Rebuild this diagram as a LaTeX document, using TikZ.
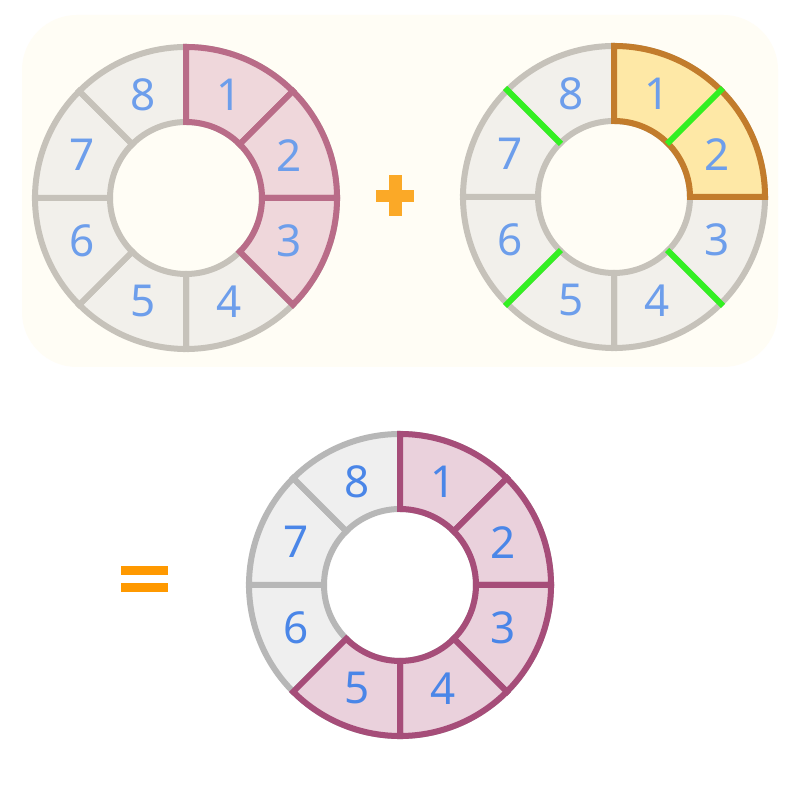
\documentclass[tikz,border=0pt]{standalone}
\usepackage{fontspec}
\setmainfont{Noto Sans}
\definecolor{cream}{HTML}{FFFDF5}
\definecolor{ga}{HTML}{C6C2BA}
\definecolor{gafill}{HTML}{F2F0EB}
\definecolor{pka}{HTML}{B96C88}
\definecolor{pkafill}{HTML}{EFD7DB}
\definecolor{ylw}{HTML}{FEE8A6}
\definecolor{ylwline}{HTML}{C27C2C}
\definecolor{grn}{HTML}{33F022}
\definecolor{gb}{HTML}{B7B7B7}
\definecolor{gbfill}{HTML}{EFEFEF}
\definecolor{pkb}{HTML}{A64D79}
\definecolor{pkbfill}{HTML}{EAD1DC}
\definecolor{diga}{HTML}{6D9EEB}
\definecolor{digb}{HTML}{4A86E8}
\definecolor{plusc}{HTML}{FBA927}
\definecolor{eqc}{HTML}{FF9900}
\newcommand{\ringsector}[3]{%
  \path[#1] (#2:151) arc[start angle=#2, end angle=#3, radius=151]
    -- (#3:76) arc[start angle=#3, end angle=#2, radius=76] -- cycle;}
\tikzset{
  graya/.style={draw=ga, fill=gafill, line width=6pt},
  pinka/.style={draw=pka, fill=pkafill, line width=6pt},
  yellowa/.style={draw=ylwline, fill=ylw, line width=6pt},
  grayb/.style={draw=gb, fill=gbfill, line width=6pt},
  pinkb/.style={draw=pkb, fill=pkbfill, line width=6pt},
  greenline/.style={draw=grn, line width=6pt},
  diglabel/.style={font=\fontsize{44}{44}\selectfont, inner sep=0pt},
}
\begin{document}
\begin{tikzpicture}[x=1pt,y=1pt]
\useasboundingbox (0,0) rectangle (800,800);
\fill[white] (0,0) rectangle (800,800);
\fill[cream, rounded corners=55pt] (22,433) rectangle (778,785);
% ring 1
\begin{scope}[shift={(186,602)}]
  \foreach \a in {90,45,0,-45,-90,-135,-180,-225} {\ringsector{graya}{\a}{\a-45}}
  \foreach \a in {90,45,0} {\ringsector{pinka}{\a}{\a-45}}
  \foreach \n/\a in {1/67.5,2/22.5,3/-22.5,4/-67.5,5/-112.5,6/-157.5,7/157.5,8/112.5}
    {\node[diglabel, text=diga] (a\n) at (\a:112) {\n};}
\end{scope}
% plus
\fill[plusc] (376,598) rectangle (414,610);
\fill[plusc] (389,584) rectangle (402,625);
% ring 2
\begin{scope}[shift={(614,603)}]
  \foreach \a in {90,45,0,-45,-90,-135,-180,-225} {\ringsector{graya}{\a}{\a-45}}
  \ringsector{yellowa}{90}{0}
  \foreach \a in {45,135,225,315} {\draw[greenline] (\a:75) -- (\a:154);}
  \foreach \n/\a in {1/67.5,2/22.5,3/-22.5,4/-67.5,5/-112.5,6/-157.5,7/157.5,8/112.5}
    {\node[diglabel, text=diga] (b\n) at (\a:112) {\n};}
\end{scope}
% equals
\fill[eqc] (121,225) rectangle (168,234);
\fill[eqc] (121,208) rectangle (168,217);
% ring 3
\begin{scope}[shift={(400,215)}]
  \foreach \a in {90,45,0,-45,-90,-135,-180,-225} {\ringsector{grayb}{\a}{\a-45}}
  \foreach \a in {90,45,0,-45,-90} {\ringsector{pinkb}{\a}{\a-45}}
  \foreach \n/\a in {1/67.5,2/22.5,3/-22.5,4/-67.5,5/-112.5,6/-157.5,7/157.5,8/112.5}
    {\node[diglabel, text=digb] (c\n) at (\a:112) {\n};}
\end{scope}
\end{tikzpicture}
\end{document}
